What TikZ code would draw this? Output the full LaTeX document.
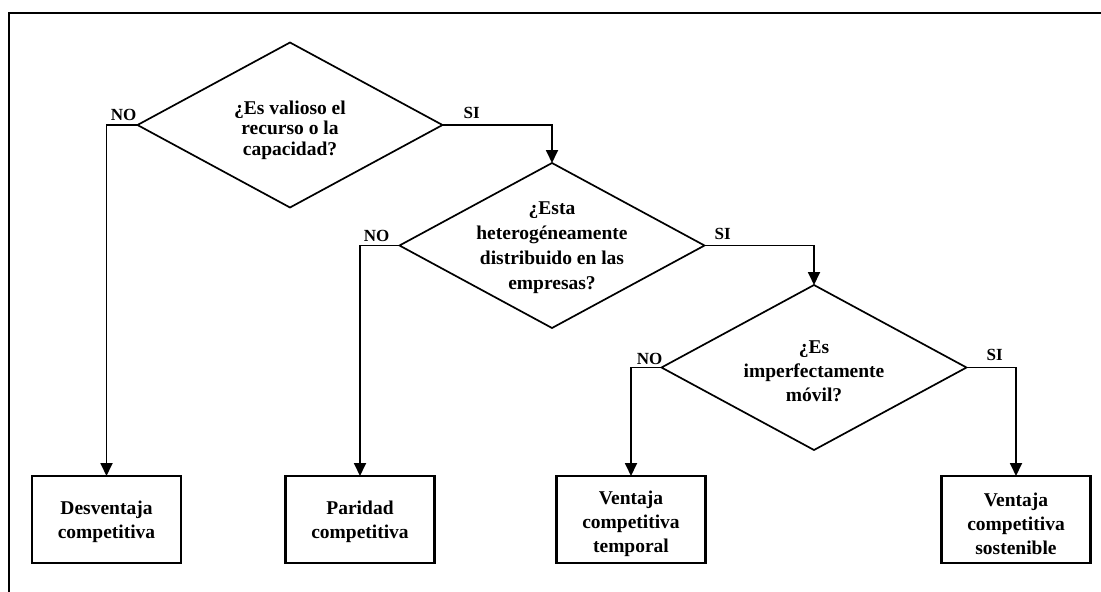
\documentclass[tikz,border=0pt]{standalone}
\usepackage{fontspec}
\setmainfont{Liberation Serif}
\usetikzlibrary{shapes.geometric,arrows.meta}
\begin{document}
\begin{tikzpicture}[x=1pt,y=-1pt,
  dia/.style={draw, shape=diamond, minimum width=305pt, minimum height=165pt, inner sep=0pt, outer sep=0pt, line width=1.7pt},
  outbox/.style={draw, rectangle, minimum width=149pt, minimum height=87pt, inner sep=0pt, outer sep=0pt, line width=2.3pt},
  txt/.style={font=\bfseries\fontsize{19.5}{24}\selectfont, align=center, inner sep=0pt},
  lbl/.style={font=\bfseries\fontsize{17}{20}\selectfont, inner sep=0pt},
  conn/.style={line width=1.8pt, -{Triangle[width=12pt,length=13pt]}},
  frame/.style={line width=2.5pt}
]
\fill[white] (0,0) rectangle (1101,592);
\useasboundingbox (0,0) rectangle (1101,592);
\coordinate (fa) at (1101,13);
\coordinate (fb) at (9,13);
\coordinate (fc) at (9,592);
\draw[frame] (fa) -- (fb) -- (fc);

% decisions
\node[dia] (d1) at (290,125) {};
\node[txt, font=\bfseries\fontsize{19.5}{20.5}\selectfont] (t1) at (290,130) {¿Es valioso el\\recurso o la\\capacidad?};
\node[dia] (d2) at (552,245.5) {};
\node[txt, font=\bfseries\fontsize{19.5}{25}\selectfont] (t2) at (552,248) {¿Esta\\heterogéneamente\\distribuido en las\\empresas?};
\node[dia] (d3) at (814,367.5) {};
\node[txt] (t3) at (814,371) {¿Es\\imperfectamente\\móvil?};

% outcomes
\node[outbox] (b1) at (106.5,519.5) {};
\node[txt] (bt1) at (106.5,522) {Desventaja\\competitiva};
\node[outbox] (b2) at (360,519.5) {};
\node[txt] (bt2) at (360,522) {Paridad\\competitiva};
\node[outbox] (b3) at (631,519.5) {};
\node[txt] (bt3) at (631,524) {Ventaja\\competitiva\\temporal};
\node[outbox] (b4) at (1016,519.5) {};
\node[txt] (bt4) at (1016,524) {Ventaja\\competitiva\\sostenible};

% connectors
\draw[conn] (d1.west) -| (b1.north);
\draw[conn] (d1.east) -| (d2.north);
\draw[conn] (d2.west) -| (b2.north);
\draw[conn] (d2.east) -| (d3.north);
\draw[conn] (d3.west) -| (b3.north);
\draw[conn] (d3.east) -| (b4.north);

% labels
\node[lbl, anchor=base east] (l1) at ([xshift=-1pt,yshift=5pt]d1.west) {NO};
\node[lbl, anchor=base west] (l2) at ([xshift=21pt,yshift=7pt]d1.east) {SI};
\node[lbl, anchor=base east] (l3) at ([xshift=-10pt,yshift=4pt]d2.west) {NO};
\node[lbl, anchor=base west] (l4) at ([xshift=10pt,yshift=6pt]d2.east) {SI};
\node[lbl, anchor=base east] (l5) at ([xshift=1pt,yshift=3pt]d3.west) {NO};
\node[lbl, anchor=base west] (l6) at ([xshift=20pt,yshift=7pt]d3.east) {SI};
\end{tikzpicture}
\end{document}
